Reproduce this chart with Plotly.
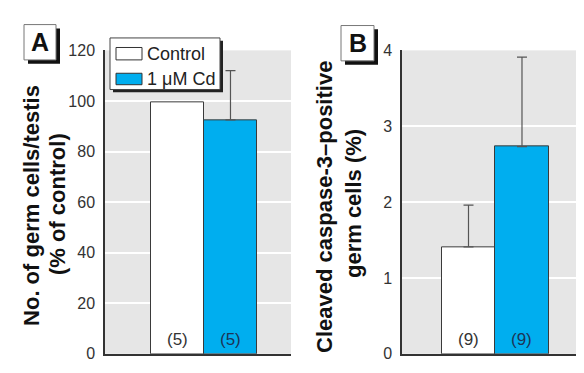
import plotly.graph_objects as go

W, H = 584, 373

groups = ["Control", "1 μM Cd"]
colors = ["#FFFFFF", "#00AEEF"]
n_text_colors = ["#333333", "#1d3557"]

# Panel A
a_values = [99.3, 92.5]
a_err_up = [0.0, 19.5]
a_n = ["(5)", "(5)"]
a_ticks = [0, 20, 40, 60, 80, 100, 120]

# Panel B
b_values = [1.41, 2.73]
b_err_up = [0.55, 1.18]
b_n = ["(9)", "(9)"]
b_ticks = [0, 1, 2, 3, 4]

FONT = "Liberation Sans, Arial, sans-serif"

def px_x(p):
    return p / W

def px_y(p):
    return 1 - p / H

fig = go.Figure()

# panel A
for i, g in enumerate(groups):
    fig.add_trace(go.Bar(
        x=[i], y=[a_values[i]], width=1, name=g,
        marker=dict(color=colors[i], line=dict(color="#3a3a3a", width=1)),
        error_y=dict(type="data", symmetric=False, array=[a_err_up[i]], arrayminus=[0],
                     visible=a_err_up[i] > 0, color="#555555", thickness=1.2, width=5),
        xaxis="x", yaxis="y", showlegend=False))
# panel B
for i, g in enumerate(groups):
    fig.add_trace(go.Bar(
        x=[i], y=[b_values[i]], width=1, name=g,
        marker=dict(color=colors[i], line=dict(color="#3a3a3a", width=1)),
        error_y=dict(type="data", symmetric=False, array=[b_err_up[i]], arrayminus=[0],
                     color="#555555", thickness=1.2, width=5),
        xaxis="x2", yaxis="y2", showlegend=False))

ydom = [px_y(354), px_y(36)]
common_y = dict(showgrid=True, gridcolor="#FFFFFF", gridwidth=1.5, zeroline=False,
                showline=True, linecolor="#333333", linewidth=1.5, ticks="",
                tickfont=dict(family=FONT, size=16, color="#333333"),
                ticklabelstandoff=5, fixedrange=True)
common_x = dict(showgrid=False, zeroline=False, showticklabels=False, ticks="",
                showline=True, linecolor="#333333", linewidth=1.5, fixedrange=True)

fig.update_layout(
    width=W, height=H,
    margin=dict(l=0, r=0, t=0, b=0),
    paper_bgcolor="#FFFFFF",
    plot_bgcolor="#E6E6E6",
    bargap=0,
    xaxis=dict(domain=[px_x(97), px_x(283)], range=[-1.368, 2.142], anchor="y", **common_x),
    yaxis=dict(domain=ydom, range=[0, 120], tickvals=a_ticks, anchor="x", **common_y),
    xaxis2=dict(domain=[px_x(394), px_x(573)], range=[-1.243, 2.103], anchor="y2", **common_x),
    yaxis2=dict(domain=ydom, range=[0, 4], tickvals=b_ticks, anchor="x2", **common_y),
)

shapes = []
annotations = []

# n labels inside bars
for i in range(2):
    annotations.append(dict(x=i, y=0, xref="x", yref="y", text=a_n[i], showarrow=False,
                            yanchor="bottom", yshift=3,
                            font=dict(family=FONT, size=17, color=n_text_colors[i])))
    annotations.append(dict(x=i, y=0, xref="x2", yref="y2", text=b_n[i], showarrow=False,
                            yanchor="bottom", yshift=3,
                            font=dict(family=FONT, size=17, color=n_text_colors[i])))

# axis titles (two lines each, rotated)
title_font = dict(family=FONT, size=22, color="#111111")
titles = [
    (24, 199, "No. of germ cells/testis"),
    (49, 197, "(% of control)"),
    (317, 200, "Cleaved caspase-3–positive"),
    (345, 197, "germ cells (%)"),
]
for tx, ty, tt in titles:
    annotations.append(dict(x=px_x(tx), y=px_y(ty), xref="paper", yref="paper",
                            text="<b>" + tt + "</b>", textangle=-90, showarrow=False,
                            font=title_font, xanchor="center", yanchor="middle"))

# panel letter boxes
def letter_box(x0, y0, x1, y1, letter):
    shapes.append(dict(type="rect", xref="paper", yref="paper",
                       x0=px_x(x0 + 4), x1=px_x(x1 + 4), y0=px_y(y1 + 4), y1=px_y(y0 + 4),
                       fillcolor="#111111", line=dict(width=0), layer="above"))
    shapes.append(dict(type="rect", xref="paper", yref="paper",
                       x0=px_x(x0), x1=px_x(x1), y0=px_y(y1), y1=px_y(y0),
                       fillcolor="#FFFFFF", line=dict(color="#777777", width=1), layer="above"))
    annotations.append(dict(x=px_x((x0 + x1) / 2), y=px_y((y0 + y1) / 2), xref="paper", yref="paper",
                            text="<b>" + letter + "</b>", showarrow=False,
                            font=dict(family=FONT, size=25, color="#111111"),
                            xanchor="center", yanchor="middle"))

letter_box(16, 9, 48, 46, "A")
letter_box(333, 10, 366, 47, "B")

# legend (manual)
lx0, ly0, lx1, ly1 = 102, 23, 212, 77
shapes.append(dict(type="rect", xref="paper", yref="paper",
                   x0=px_x(lx0 + 3), x1=px_x(lx1 + 3), y0=px_y(ly1 + 3), y1=px_y(ly0 + 3),
                   fillcolor="#222222", line=dict(width=0), layer="above"))
shapes.append(dict(type="rect", xref="paper", yref="paper",
                   x0=px_x(lx0), x1=px_x(lx1), y0=px_y(ly1), y1=px_y(ly0),
                   fillcolor="#FFFFFF", line=dict(color="#444444", width=1), layer="above"))
sw_y = [(33, 46), (60, 72)]
text_y = [39.5, 66]
for i, g in enumerate(groups):
    shapes.append(dict(type="rect", xref="paper", yref="paper",
                       x0=px_x(108), x1=px_x(134), y0=px_y(sw_y[i][1]), y1=px_y(sw_y[i][0]),
                       fillcolor=colors[i], line=dict(color="#333333", width=1), layer="above"))
    annotations.append(dict(x=px_x(137), y=px_y(text_y[i]), xref="paper", yref="paper",
                            text=g, showarrow=False, xanchor="left", yanchor="middle",
                            font=dict(family=FONT, size=18, color="#222222")))

fig.update_layout(shapes=shapes, annotations=annotations)

fig.write_html("out.html")
